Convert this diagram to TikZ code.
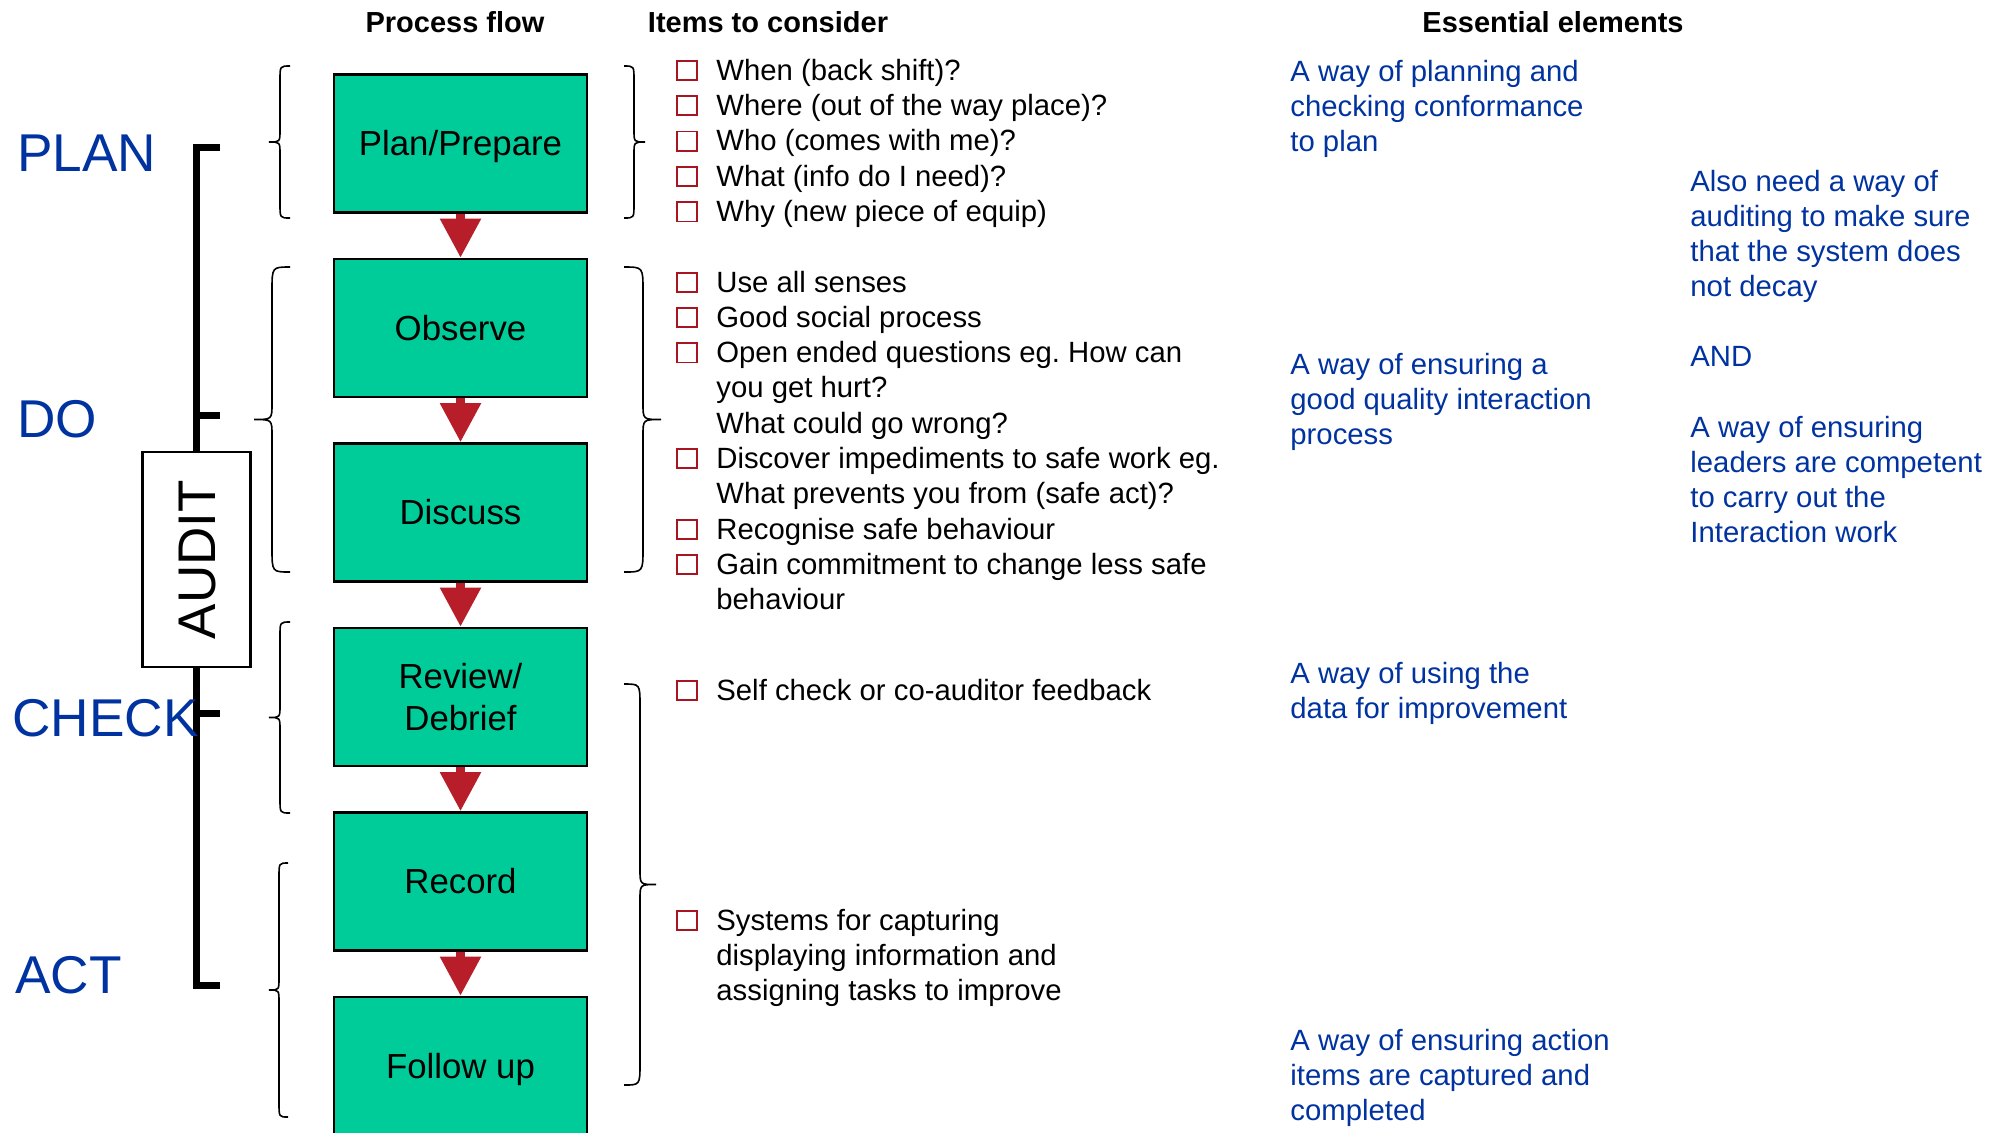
\documentclass[tikz,border=0pt]{standalone}
\usepackage{fontspec}
\setmainfont{Liberation Sans}
\usetikzlibrary{arrows.meta}
\definecolor{boxgreen}{HTML}{00CC99}
\definecolor{arrowred}{HTML}{B81E29}
\definecolor{chkred}{HTML}{A8141F}
\definecolor{txtblue}{HTML}{0033A0}
\frenchspacing
% xe xs xt ytop ybot ymid rend rtip
\newcommand{\bracedraw}[8]{\draw[bracestyle] (#1,#4) .. controls (#2,#4) .. (#2,#4+#7) -- (#2,#6-#8) .. controls (#2,#6) .. (#3,#6) .. controls (#2,#6) .. (#2,#6+#8) -- (#2,#5-#7) .. controls (#2,#5) .. (#1,#5);}
\tikzset{
  flowbox/.style={draw=black, line width=1.3pt, fill=boxgreen, minimum width=126.5pt, minimum height=69pt, inner sep=0pt, font=\fontsize{17.4}{20.9}\selectfont, align=center},
  oneline/.style={text height=12.46pt, text depth=0pt},
  flowarrow/.style={draw=arrowred, line width=4.2pt, -{Triangle[width=19.5pt,length=19.5pt]}},
  bracestyle/.style={draw=black, line width=0.8pt},
  bracket/.style={draw=black, line width=3.5pt},
  hdr/.style={font=\fontsize{14.5}{17}\selectfont\bfseries, anchor=base, inner sep=0pt},
  itemtxt/.style={font=\fontsize{14.65}{17.6}\selectfont, anchor=base west, inner sep=0pt},
  bluetxt/.style={itemtxt, text=txtblue},
  phase/.style={font=\fontsize{26.6}{31}\selectfont, text=txtblue, anchor=base west, inner sep=0pt},
  chk/.style={draw=chkred, line width=0.9pt, minimum width=10.1pt, minimum height=9.6pt, inner sep=0pt},
}
\begin{document}
\begin{tikzpicture}[x=0.5pt,y=-0.5pt]
\useasboundingbox (0,0) rectangle (2000,1132);
% PDCA bracket
\draw[bracket] (220,147) -- (196,147) -- (196,985) -- (220,985);
\draw[bracket] (196,415) -- (220,415);
\draw[bracket] (196,713) -- (220,713);
% AUDIT box
\node[draw=black, fill=white, line width=1.1pt, minimum width=107.5pt, minimum height=54pt, inner sep=0pt, rotate=90,
      font=\fontsize{26.5}{31}\selectfont, text height=18.97pt, text depth=0pt] (audit) at (196.5,559.5) {AUDIT};
% phase labels
\node[phase] (plan) at (17,171) {PLAN};
\node[phase] (do) at (17,437) {DO};
\node[phase] (check) at (12,736) {CHECK};
\node[phase] (act) at (15,993) {ACT};
% headers
\node[hdr] (h1) at (455,32.5) {Process flow};
\node[hdr] (h2) at (768,32.5) {Items to consider};
\node[hdr] (h3) at (1553,32.5) {Essential elements};
% braces
\bracedraw{290}{280}{269}{66}{218}{142}{14}{12}
\bracedraw{290}{272}{254}{267}{572}{419.5}{24}{16}
\bracedraw{290}{280}{269}{622}{813}{717.5}{14}{12}
\bracedraw{288}{279}{269}{863}{1117}{990}{14}{12}
\bracedraw{624}{634}{645}{66}{218}{142}{14}{12}
\bracedraw{624}{643}{661}{267}{572}{419.5}{24}{16}
\bracedraw{624}{640}{656}{684}{1085}{884.5}{22}{15}
% flow boxes
\node[flowbox, oneline] (b1) at (460.5,143.5) {Plan/Prepare};
\node[flowbox, oneline] (b2) at (460.5,328) {Observe};
\node[flowbox, oneline] (b3) at (460.5,512.5) {Discuss};
\node[flowbox] (b4) at (460.5,697) {Review/\\Debrief};
\node[flowbox, oneline] (b5) at (460.5,881.5) {Record};
\node[flowbox, oneline] (b6) at (460.5,1066) {Follow up};
\draw[flowarrow] (b1.south) -- (b2.north);
\draw[flowarrow] (b2.south) -- (b3.north);
\draw[flowarrow] (b3.south) -- (b4.north);
\draw[flowarrow] (b4.south) -- (b5.north);
\draw[flowarrow] (b5.south) -- (b6.north);
% items to consider
\foreach \yb/\txt/\c [count=\i] in {
  80/When (back shift)?/1,
  115.4/Where (out of the way place)?/1,
  150.8/Who (comes with me)?/1,
  186.2/What (info do I need)?/1,
  221.6/Why (new piece of equip)/1,
  292/Use all senses/1,
  327.3/Good social process/1,
  362.6/Open ended questions eg. How can/1,
  397.9/you get hurt?/0,
  433.2/What could go wrong?/0,
  468.5/Discover impediments to safe work eg./1,
  503.8/What prevents you from (safe act)?/0,
  539.1/Recognise safe behaviour/1,
  574.4/Gain commitment to change less safe/1,
  609.7/behaviour/0,
  700/Self check or co-auditor feedback/1,
  930/Systems for capturing/1,
  965.3/displaying information and/0,
  1000.6/assigning tasks to improve/0}
{
  \node[itemtxt] (it\i) at (716,\yb) {\txt};
  \ifnum\c=1 \node[chk] (ck\i) at (687,\yb-9.8) {}; \fi
}
% essential elements
\foreach \xx/\yb/\txt [count=\i] in {
  1290/81/A way of planning and,
  1290/116.3/checking conformance,
  1290/151.6/to plan,
  1690/191/Also need a way of,
  1690/226.3/auditing to make sure,
  1690/261.6/that the system does,
  1690/296.9/not decay,
  1690/366/AND,
  1690/437/A way of ensuring,
  1690/472.3/leaders are competent,
  1690/507.6/to carry out the,
  1690/542.9/Interaction work,
  1290/374/A way of ensuring a,
  1290/409.3/good quality interaction,
  1290/444.6/process,
  1290/683/A way of using the,
  1290/718.3/data for improvement,
  1290/1050/A way of ensuring action,
  1290/1085.3/items are captured and,
  1290/1120.6/completed}
{
  \node[bluetxt] (ee\i) at (\xx,\yb) {\txt};
}
\end{tikzpicture}
\end{document}
